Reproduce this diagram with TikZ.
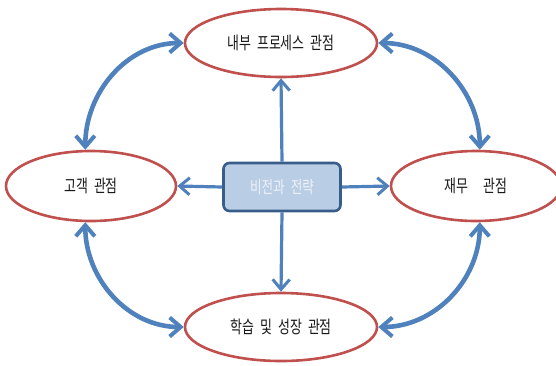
\documentclass[tikz,border=0pt]{standalone}
\usepackage{fontspec}
\newfontfamily\kr[FakeStretch=0.74]{Noto Sans CJK KR}
\usetikzlibrary{shapes.geometric,arrows.meta}
\definecolor{ellred}{HTML}{C0504D}
\definecolor{arrblue}{HTML}{4F81BD}
\definecolor{boxfill}{HTML}{B9CDE5}
\definecolor{boxline}{HTML}{385D8A}
\definecolor{boxtext}{HTML}{EEF2F8}
\tikzset{
  persp/.style={ellipse, draw=ellred, line width=2.6pt, fill=white, minimum width=#1, minimum height=68pt, inner sep=0pt,
    font=\kr\fontsize{17.5}{18}\selectfont, text=black!90},
  visionbox/.style={rectangle, rounded corners=6pt, draw=boxline, line width=2.6pt, fill=boxfill,
    minimum width=117pt, minimum height=48pt, font=\kr\fontsize{17}{18}\selectfont, text=boxtext},
  straightarr/.style={draw=arrblue, line width=3.2pt, -{Straight Barb[length=10pt,width=17pt,line width=3pt]}},
  curvearr/.style={draw=arrblue, line width=4.6pt, {Straight Barb[length=11pt,width=19pt,line width=4pt]}-{Straight Barb[length=11pt,width=19pt,line width=4pt]}},
}
\begin{document}
\begin{tikzpicture}[x=1pt,y=-1pt]
\useasboundingbox (0,0) rectangle (556,365);
\node[persp=192pt] (top) at (281,43) {내부\hspace{0.35em}프로세스\hspace{0.35em}관점};
\node[persp=192pt] (bot) at (281,327) {학습\hspace{0.35em}및\hspace{0.35em}성장\hspace{0.35em}관점};
\node[persp=170pt, minimum height=70pt] (left) at (91,186) {고객\hspace{0.35em}관점};
\node[persp=170pt, minimum height=70pt] (right) at (476,186) {재무\hspace{0.9em}관점};
\node[visionbox] (vis) at (282,187) {비전과\hspace{0.35em}전략};
\draw[straightarr] (vis.north) -- (top.south);
\draw[straightarr] (vis.south) -- (bot.north);
\draw[straightarr] (vis.west) -- (left.east);
\draw[straightarr] (vis.east) -- (right.west);
\draw[curvearr] (left.99) to[out=90,in=180] (top.west);
\draw[curvearr] (top.east) to[out=0,in=90] (right.84);
\draw[curvearr] (left.261) to[out=-90,in=180] (bot.west);
\draw[curvearr] (bot.east) to[out=0,in=-90] (right.276);
\end{tikzpicture}
\end{document}
